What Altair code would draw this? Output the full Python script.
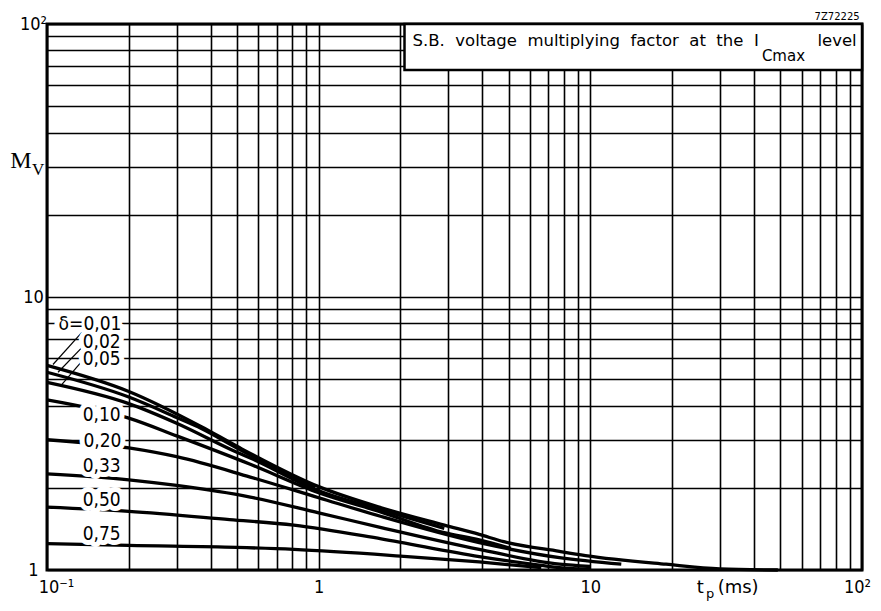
import altair as alt
import pandas as pd

# ---- axes / grid values ----
x_grid = [0.1, 0.2, 0.3, 0.4, 0.5, 0.6, 0.7, 0.8, 0.9,
          1, 2, 3, 4, 5, 6, 7, 8, 9,
          10, 20, 30, 40, 50, 60, 70, 80, 90, 100]
y_grid = [1, 2, 3, 4, 5, 6, 7, 8, 9,
          10, 20, 30, 40, 50, 60, 70, 80, 90, 100]

# ---- curves: t_p (ms) and M_V for each duty factor delta ----
deltas = ["0,01", "0,02", "0,05", "0,10", "0,20", "0,33", "0,50", "0,75"]
t_001 = [0.1, 0.2, 0.37, 0.5, 1, 1.7, 2.9, 3.9, 4.8, 7.7, 9.6, 19, 30, 49]
mv_001 = [5.62, 4.51, 3.35, 2.84, 2.02, 1.69, 1.46, 1.35, 1.27, 1.17, 1.13, 1.05, 1.01, 1.0]
t_002 = [0.1, 0.2, 0.3, 0.37, 0.5, 0.97]
mv_002 = [5.3, 4.3, 3.62, 3.3, 2.8, 2.0]
t_005 = [0.1, 0.2, 0.3, 0.5, 0.56, 1, 1.7, 2.9]
mv_005 = [4.87, 4.07, 3.45, 2.7, 2.57, 1.95, 1.66, 1.42]
t_010 = [0.1, 0.2, 0.3, 0.56, 1, 1.7, 2.9, 3.9, 5.1]
mv_010 = [4.2, 3.6, 3.1, 2.44, 1.92, 1.63, 1.37, 1.29, 1.2]
t_020 = [0.1, 0.2, 0.3, 0.56, 1, 1.7, 3.9, 7.7, 13]
mv_020 = [3.0, 2.8, 2.6, 2.19, 1.84, 1.57, 1.26, 1.11, 1.05]
t_033 = [0.1, 0.2, 0.3, 0.56, 1, 1.7, 3.9, 7.7, 10]
mv_033 = [2.25, 2.14, 2.04, 1.85, 1.62, 1.43, 1.19, 1.05, 1.03]
t_050 = [0.1, 0.2, 0.47, 0.81, 1.7, 3.9, 6.6, 7.7, 10]
mv_050 = [1.70, 1.64, 1.53, 1.46, 1.30, 1.12, 1.04, 1.02, 1.005]
t_075 = [0.1, 0.2, 0.5, 0.81, 2, 3.9, 6.6]
mv_075 = [1.25, 1.23, 1.21, 1.19, 1.125, 1.07, 1.02]

# ---- curve labels (anchor in data units) ----
label_text = ["δ=0,01", "0,02", "0,05", "0,10", "0,20", "0,33", "0,50", "0,75"]
label_t = [0.144, 0.159, 0.159, 0.159, 0.16, 0.159, 0.159, 0.159]
label_mv = [7.95, 6.83, 5.92, 3.71, 2.98, 2.41, 1.81, 1.35]

# leader lines from labels to curve starts
lead_t1 = [0.1357, 0.138, 0.138]
lead_mv1 = [7.5, 6.71, 6.0]
lead_t2 = [0.1052, 0.1098, 0.1135]
lead_mv2 = [5.66, 5.30, 4.79]

# title box
box_t = [2.07, 100]
box_mv = [67.9, 100]

SANS = "Liberation Sans Narrow, DejaVu Sans Condensed, Liberation Sans"
TSANS = "DejaVu Sans"
SERIF = "Liberation Serif"
NB = " \u00a0"  # wide word gap as in the original lettering

rows = []
for d, ts, ms in zip(deltas,
                     [t_001, t_002, t_005, t_010, t_020, t_033, t_050, t_075],
                     [mv_001, mv_002, mv_005, mv_010, mv_020, mv_033, mv_050, mv_075]):
    for i, (t, m) in enumerate(zip(ts, ms)):
        rows.append({"delta": d, "t": t, "mv": m, "o": i})
curves = pd.DataFrame(rows)

xscale = alt.Scale(type="log", domain=[0.1, 100], nice=False)
yscale = alt.Scale(type="log", domain=[1, 100], nice=False)

xaxis = alt.Axis(
    values=x_grid, title=None, grid=True, gridColor="black", gridWidth=1.6, gridOpacity=1,
    ticks=False, domain=False, labelOverlap=False, labelFlush=False, labelFont=SANS,
    labelFontSize=18, labelColor="black", labelPadding=8, labelBaseline="top",
    labelExpr="datum.value == 0.1 ? '10⁻¹' : datum.value == 1 ? '1' : datum.value == 10 ? '10' : datum.value == 100 ? '10²' : ''",
    labelOffset={"expr": "datum.value < 0.5 ? 9 : datum.value > 50 ? -5 : 0"},
)
yaxis = alt.Axis(
    values=y_grid, title=None, grid=True, gridColor="black", gridWidth=1.6, gridOpacity=1,
    ticks=False, domain=False, labelOverlap=False, labelFlush=False, labelFont=SANS,
    labelFontSize=18, labelColor="black", labelPadding=14, labelAlign="center",
    labelBaseline="middle",
    labelExpr="datum.value == 1 ? '1' : datum.value == 10 ? '10' : datum.value == 100 ? '10²' : ''",
)


def X(f="t"):
    return alt.X(f"{f}:Q", scale=xscale, axis=xaxis)


def Y(f="mv"):
    return alt.Y(f"{f}:Q", scale=yscale, axis=yaxis)


lines = alt.Chart(curves).mark_line(
    color="black", strokeWidth=3.3, interpolate="monotone", strokeCap="butt"
).encode(x=X(), y=Y(), detail="delta:N", order="o:Q")

lead_df = pd.DataFrame({"t1": lead_t1, "mv1": lead_mv1, "t2": lead_t2, "mv2": lead_mv2})
leads = alt.Chart(lead_df).mark_rule(color="black", strokeWidth=1.2).encode(
    x=X("t1"), y=Y("mv1"), x2="t2:Q", y2="mv2:Q"
)

lab_df = pd.DataFrame({"text": label_text, "t": label_t, "mv": label_mv})
halo = alt.Chart(lab_df).mark_text(
    font=SANS, fontSize=19, fill="white", stroke="white", strokeWidth=10,
    strokeJoin="round", align="center", baseline="middle"
).encode(x=X(), y=Y(), text="text:N")
labs = alt.Chart(lab_df).mark_text(
    font=SANS, fontSize=19, color="black", align="center", baseline="middle"
).encode(x=X(), y=Y(), text="text:N")

box_df = pd.DataFrame({"t1": [box_t[0]], "t2": [box_t[1]], "m1": [box_mv[0]], "m2": [box_mv[1]]})
box = alt.Chart(box_df).mark_rect(fill="white", stroke="black", strokeWidth=2.5).encode(
    x=X("t1"), x2="t2:Q", y=Y("m1"), y2="m2:Q"
)

ann_text = [NB.join(["S.B.", "voltage", "multiplying", "factor", "at", "the", "I"]),
            "Cmax", "level", "7Z72225"]
ann_t = [2.216, 42.8, 95.6, 98]
ann_mv = [86.7, 76.5, 86.7, 106.2]
ann_size = [16.5, 15, 16.5, 10]
ann_align = ["left", "left", "right", "right"]
ann_df = pd.DataFrame({"text": ann_text, "t": ann_t, "mv": ann_mv})
anns = []
for i in range(len(ann_df)):
    anns.append(
        alt.Chart(ann_df.iloc[[i]]).mark_text(
            font=TSANS, fontSize=ann_size[i], color="black",
            align=ann_align[i], baseline="middle"
        ).encode(x=X(), y=Y(), text="text:N")
    )

# axis titles (M_V and t_p (ms)) in data coordinates outside the plot
ttl_text = ["M", "V", "t", "p", "(ms)"]
ttl_t = [0.0802, 0.0927, 25.4, 27.6, 35.0]
ttl_mv = [31.4, 29.2, 0.86, 0.82, 0.86]
ttl_font = [SERIF, SERIF, TSANS, TSANS, TSANS]
ttl_size = [24, 17, 18, 13, 18]
ttl_df = pd.DataFrame({"text": ttl_text, "t": ttl_t, "mv": ttl_mv})
ttls = []
for i in range(len(ttl_df)):
    ttls.append(
        alt.Chart(ttl_df.iloc[[i]]).mark_text(
            font=ttl_font[i], fontSize=ttl_size[i], color="black",
            align="center", baseline="middle"
        ).encode(x=X(), y=Y(), text="text:N")
    )

chart = alt.layer(lines, leads, halo, labs, box, *anns, *ttls).properties(
    width=815, height=546,
    padding={"left": 39, "top": 16, "right": 10, "bottom": 36},
    autosize="none",
    background="white",
).configure_view(stroke="black", strokeWidth=3)

chart.save("out.html", embed_options={"renderer": "svg", "actions": False})
